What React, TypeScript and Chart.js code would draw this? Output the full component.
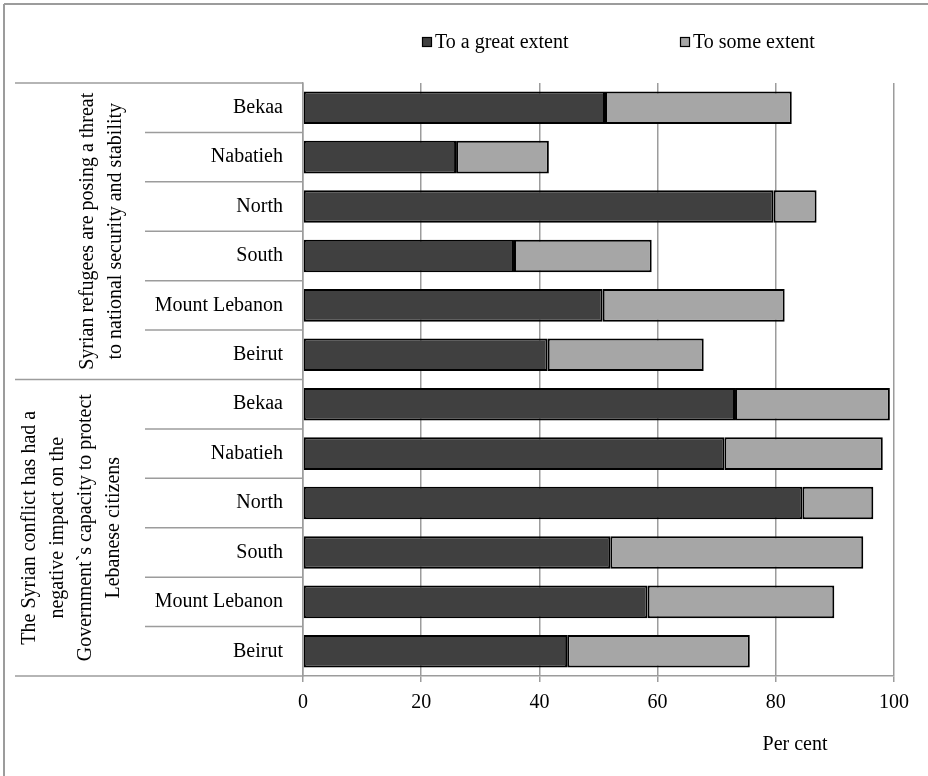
import React, { useEffect, useRef } from "react";
import { Chart, registerables } from "chart.js";

Chart.register(...registerables);

const regions = ["Bekaa", "Nabatieh", "North", "South", "Mount Lebanon", "Beirut"];
const categoryLabels = [...regions, ...regions];
const greatExtent = [51.1, 25.9, 79.6, 35.7, 50.7, 41.4, 73.1, 71.3, 84.5, 52.0, 58.3, 44.7];
const someExtent = [31.6, 15.7, 7.3, 23.3, 30.8, 26.4, 26.2, 26.8, 12.0, 42.8, 31.6, 30.9];
const seriesNames = ["To a great extent", "To some extent"];
const groupTitles = [
  ["Syrian refugees are posing a threat", "to national security and stability"],
  ["The Syrian conflict has had a", "negative impact on the", "Government`s capacity to protect", "Lebanese citizens"],
];
const xTicks = [0, 20, 40, 60, 80, 100];
const xTitle = "Per cent";

const FONT = "'Liberation Serif', serif";
const FS = 20;
const DARK = "#404040";
const LIGHT = "#a6a6a6";
const GRID = "#9c9c9c";

const decorPlugin = {
  id: "decor",
  afterDraw(chart: any) {
    const ctx = chart.ctx as CanvasRenderingContext2D;
    const { top, bottom, left } = chart.chartArea;
    const ys = chart.scales.y;
    const n = categoryLabels.length;
    const line = (x0: number, y0: number, x1: number, y1: number) => {
      ctx.beginPath();
      ctx.moveTo(x0, y0);
      ctx.lineTo(x1, y1);
      ctx.stroke();
    };
    ctx.save();
    // outer frame (top & left)
    ctx.strokeStyle = GRID;
    ctx.lineWidth = 2;
    line(4, 4, chart.width, 4);
    line(4, 4, 4, chart.height);
    // category separators in label area
    ctx.lineWidth = 1.5;
    const bounds: number[] = [];
    for (let i = 0; i <= n; i++) {
      let yb: number;
      if (i === 0) yb = top;
      else if (i === n) yb = bottom;
      else yb = (ys.getPixelForValue(i - 1) + ys.getPixelForValue(i)) / 2;
      bounds.push(yb);
      const x0 = i % regions.length === 0 ? 15 : 145;
      line(x0, yb, left, yb);
    }
    // group titles (rotated)
    ctx.fillStyle = "#000";
    ctx.font = `${FS}px ${FONT}`;
    ctx.textAlign = "center";
    ctx.textBaseline = "middle";
    const centersX = [102, 72];
    const spacing = 28;
    groupTitles.forEach((lines, g) => {
      const yc = (bounds[g * regions.length] + bounds[(g + 1) * regions.length]) / 2;
      const xc = centersX[g];
      ctx.save();
      ctx.translate(xc, yc);
      ctx.rotate(-Math.PI / 2);
      lines.forEach((t, k) => {
        const off = (k - (lines.length - 1) / 2) * spacing;
        ctx.fillText(t, 0, off);
      });
      ctx.restore();
    });
    // legend
    const legendItems = [
      { x: 422, color: DARK, text: seriesNames[0] },
      { x: 680, color: LIGHT, text: seriesNames[1] },
    ];
    ctx.textAlign = "left";
    ctx.textBaseline = "alphabetic";
    ctx.font = `${FS}px ${FONT}`;
    legendItems.forEach((it) => {
      ctx.fillStyle = it.color;
      ctx.fillRect(it.x, 37, 10, 10);
      ctx.strokeStyle = "#000";
      ctx.lineWidth = 1.2;
      ctx.strokeRect(it.x + 0.5, 37.5, 9, 9);
      ctx.fillStyle = "#000";
      ctx.fillText(it.text, it.x + 13, 48);
    });
    // x title
    ctx.textAlign = "center";
    ctx.textBaseline = "middle";
    ctx.fillText(xTitle, 795, 745);
    ctx.restore();
  },
};

export default function App() {
  const ref = useRef<HTMLCanvasElement>(null);
  useEffect(() => {
    if (!ref.current) return;
    const chart = new Chart(ref.current, {
      type: "bar",
      data: {
        labels: categoryLabels,
        datasets: [
          {
            label: seriesNames[0],
            data: greatExtent,
            backgroundColor: DARK,
            borderColor: "#000",
            borderWidth: 2,
            borderSkipped: false,
            categoryPercentage: 1,
            barPercentage: 0.66,
          },
          {
            label: seriesNames[1],
            data: someExtent,
            backgroundColor: LIGHT,
            borderColor: "#000",
            borderWidth: 2,
            borderSkipped: false,
            categoryPercentage: 1,
            barPercentage: 0.66,
          },
        ],
      },
      options: {
        indexAxis: "y",
        responsive: false,
        animation: false,
        layout: { padding: { top: 83, right: 34, bottom: 0, left: 0 } },
        plugins: {
          legend: { display: false },
          tooltip: { enabled: false },
          title: { display: false },
        },
        font: { family: FONT },
        scales: {
          x: {
            stacked: true,
            min: 0,
            max: 100,
            afterBuildTicks: (scale: any) => {
              scale.ticks = xTicks.map((v) => ({ value: v }));
            },
            afterFit: (scale: any) => {
              scale.height = 100;
            },
            grid: {
              color: GRID,
              lineWidth: 1.5,
              drawTicks: true,
              tickLength: 6,
              tickColor: GRID,
            },
            border: { display: true, color: GRID, width: 1.5 },
            ticks: {
              color: "#000",
              padding: 9,
              font: { family: FONT, size: FS },
              maxRotation: 0,
            },
          },
          y: {
            stacked: true,
            afterFit: (scale: any) => {
              scale.width = 303;
            },
            grid: { display: false, drawTicks: false },
            border: { display: true, color: GRID, width: 1.5 },
            ticks: {
              color: "#000",
              padding: 20,
              font: { family: FONT, size: FS },
              autoSkip: false,
            },
          },
        },
      } as any,
      plugins: [decorPlugin],
    });
    return () => chart.destroy();
  }, []);
  return (
    <div style={{ position: "absolute", left: 0, top: 0, width: 928, height: 776, background: "#fff" }}>
      <canvas ref={ref} width={928} height={776} />
    </div>
  );
}
